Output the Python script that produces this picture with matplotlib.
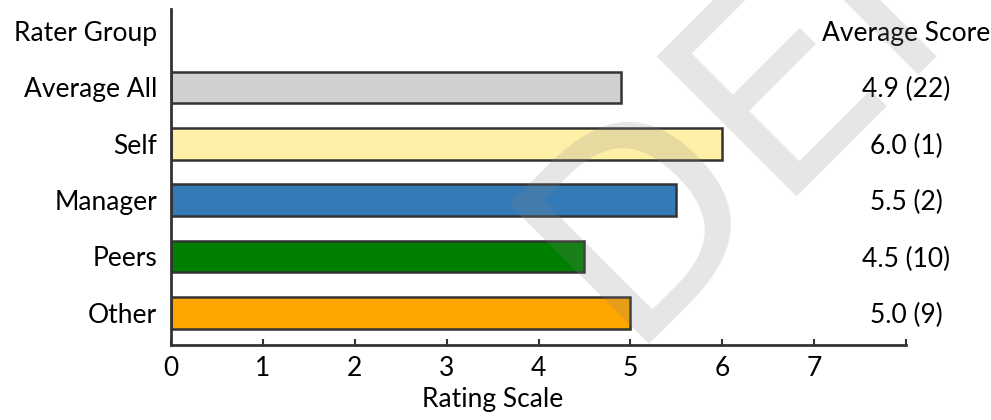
import matplotlib.pyplot as plt

plt.rcParams['font.family'] = ['Lato', 'DejaVu Sans']

# Ratings per rater group (top to bottom)
groups = ["Average All", "Self", "Manager", "Peers", "Other"]
scores = [4.9, 6.0, 5.5, 4.5, 5.0]
counts = [22, 1, 2, 10, 9]
colors = ["#d0d0d0", "#fff0a8", "#337ab7", "#008000", "#ffa500"]
tick_values = [0, 1, 2, 3, 4, 5, 6, 7, 8]
tick_labels = ["0", "1", "2", "3", "4", "5", "6", "7", ""]

edge = "#333333"
fs = 19

fig = plt.figure(figsize=(9.91, 4.2), dpi=100)
ax = fig.add_axes([171 / 991, 1 - 345 / 420, 735 / 991, 336 / 420])

n = len(groups)
ypos = [n - 1 - i for i in range(n)]
ax.barh(ypos, scores, height=0.56, color=colors, edgecolor=edge, linewidth=1.8, zorder=2)

# header row sits above the bars
ax.set_yticks(ypos + [n])
ax.set_yticklabels(groups + ["Rater Group"], fontsize=fs)
ax.tick_params(axis="y", length=0, pad=10)

ax.set_xlim(0, 8)
ax.set_ylim(-0.57, n + 0.39)
ax.set_xticks(tick_values)
ax.set_xticklabels(tick_labels, fontsize=fs)
ax.tick_params(axis="x", direction="in", length=4, width=1.5, color=edge, pad=8)
ax.set_xlabel("Rating Scale", fontsize=fs, x=3.5 / 8, labelpad=4)

# score and respondent count at the right end of each row
ax.text(8, n, "Average Score", ha="center", va="center_baseline", fontsize=fs, clip_on=False)
for y, s, c in zip(ypos, scores, counts):
    ax.text(8, y, f"{s:.1f} ({c})", ha="center", va="center_baseline", fontsize=fs, clip_on=False)

for side in ["top", "right"]:
    ax.spines[side].set_visible(False)
for side in ["left", "bottom"]:
    ax.spines[side].set_color(edge)
    ax.spines[side].set_linewidth(2)

# watermark over the chart
fig.text(0.628, 0.180, "DEMO", rotation=45, rotation_mode="anchor", ha="left", va="baseline",
         fontsize=196, color="#808080", alpha=0.2, family="DejaVu Sans", zorder=10)

fig.savefig("out.png", dpi=100)
